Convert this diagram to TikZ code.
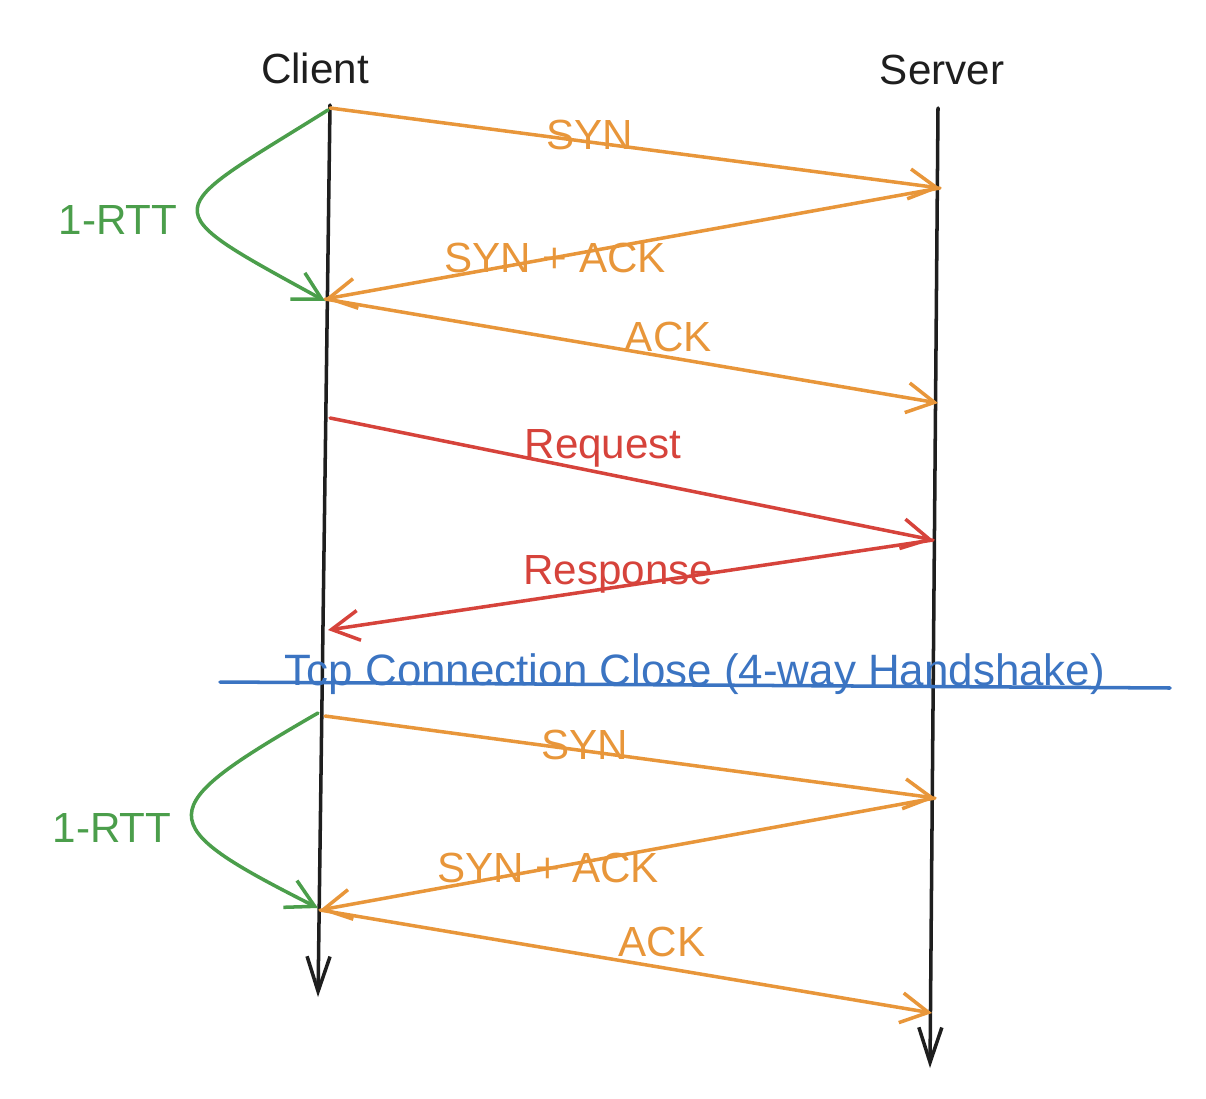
\documentclass[tikz,border=0pt]{standalone}
\usepackage{fontspec}
\setmainfont{Liberation Sans}
\usetikzlibrary{arrows.meta}
\definecolor{synorange}{HTML}{E8963A}
\definecolor{reqred}{HTML}{D6433B}
\definecolor{rttgreen}{HTML}{4B9E4B}
\definecolor{closeblue}{HTML}{3B74C2}
\definecolor{inkblack}{HTML}{1E1E1E}

\begin{document}
\begin{tikzpicture}
  [x=0.02cm,y=-0.02cm,line cap=round,line join=round,
   every node/.style={font=\fontsize{24}{28}\selectfont,inner sep=0pt}]
  \tikzstyle{life} = [draw=inkblack,line width=2pt,-{Straight Barb[length=7mm,width=4.6mm]}]
  \tikzstyle{msg} = [draw=synorange,line width=2pt,-{Straight Barb[length=5.5mm,width=6mm]}]
  \tikzstyle{req} = [draw=reqred,line width=2pt,-{Straight Barb[length=5.5mm,width=6mm]}]
  \tikzstyle{rtt} = [draw=rttgreen,line width=2pt,-{Straight Barb[length=5.5mm,width=6mm]}]
  \tikzstyle{closeline} = [draw=closeblue,line width=2pt]
  \useasboundingbox (0,0) rectangle (1206,1098);

  % actors
  \node[text=inkblack] (client) at (315,68) {Client};
  \node[text=inkblack] (server) at (942,70) {Server};
  \coordinate (ctop) at (330,105);
  \coordinate (cbot) at (318,997);
  \coordinate (stop) at (938,108);
  \coordinate (sbot) at (930,1068);
  \draw[life] (ctop) -- (cbot);
  \draw[life] (stop) -- (sbot);

  % points on the lifelines
  \coordinate (c1) at (330,108);
  \coordinate (s1) at (940,188);
  \coordinate (c2) at (325,299);
  \coordinate (s2) at (938,403);
  \coordinate (c3) at (330,418);
  \coordinate (s3) at (933,540);
  \coordinate (c4) at (328,630);
  \coordinate (c5) at (325,716);
  \coordinate (s5) at (935,798);
  \coordinate (c6) at (320,910);
  \coordinate (s6) at (932,1013);

  % handshake
  \foreach \source/\dest/\where/\lift/\name/\text in
      {c1/s1/.426/.14cm/syn1/SYN, s1/c2/.626/0cm/synack1/SYN + ACK, c2/s2/.56/.4cm/ack1/ACK,
       c5/s5/.426/.12cm/syn2/SYN, s5/c6/.629/0cm/synack2/SYN + ACK, c6/s6/.559/.52cm/ack2/ACK}
    \draw[msg] (\source) -- node[text=synorange,pos=\where,yshift=\lift] (\name) {\text} (\dest);

  % data
  \foreach \source/\dest/\where/\lift/\name/\text in
      {c3/s3/.453/.5cm/request/Request, s3/c4/.52/.24cm/response/Response}
    \draw[req] (\source) -- node[text=reqred,pos=\where,yshift=\lift] (\name) {\text} (\dest);

  % close
  \coordinate (b1) at (220,682);
  \coordinate (b2) at (1170,688);
  \draw[closeline] (b1) -- node[text=closeblue,pos=.5,yshift=.22cm,font=\fontsize{25}{29}\selectfont] (close) {Tcp Connection Close (4-way Handshake)} (b2);

  % round trips
  \node[text=rttgreen] (rtt1) at (118,220) {1-RTT};
  \node[text=rttgreen] (rtt2) at (112,828) {1-RTT};
  \coordinate (g1) at (328,110);
  \coordinate (g2) at (325,301);
  \coordinate (g3) at (318,713);
  \coordinate (g4) at (318,908);
  \draw[rtt] (g1) .. controls (160,215) and (150,205) .. (g2);
  \draw[rtt] (g3) .. controls (150,810) and (150,823) .. (g4);
\end{tikzpicture}
\end{document}
